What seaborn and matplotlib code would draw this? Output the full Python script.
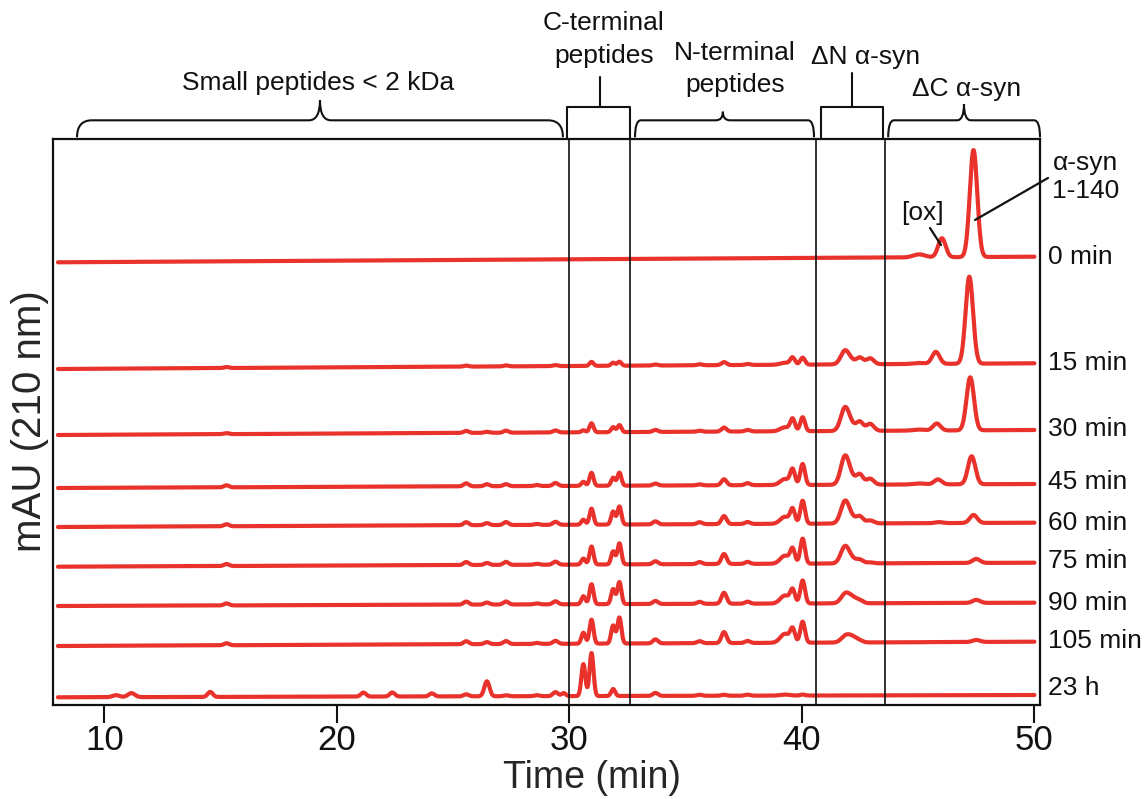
import numpy as np
import pandas as pd
import matplotlib
matplotlib.use("Agg")
import matplotlib.pyplot as plt
import seaborn as sns
from matplotlib.path import Path
from matplotlib.patches import PathPatch

sns.set_style("ticks")
plt.rcParams['font.family'] = ['Liberation Sans', 'DejaVu Sans']

RED = '#e8322b'

# traces, bottom of each baseline (mAU-ish units) and its rise across the run
trace_labels = ['0 min', '15 min', '30 min', '45 min', '60 min', '75 min', '90 min', '105 min', '23 h']
baseline_start = [442.7, 336, 270, 217, 178, 138.3, 99, 59, 7.7]
baseline_rise = [5.6, 5.7, 5.0, 4.0, 4.3, 4.0, 3.3, 4.3, 2.3]
label_nudge = [0, 0, 1, 2, 0, 1.5, 0, 1, 7]

# peptide peaks (retention time, width) shared by all traces
peak_time = [10.5, 11.16, 14.55, 15.25, 21.14, 22.38, 24.08, 25.56, 26.45, 27.27,
             28.6, 29.4, 29.75, 30.6, 30.95, 31.88, 32.15, 33.7, 35.6, 36.65,
             37.66, 39.27, 39.6, 40.03, 41.85, 42.15, 42.5, 42.93, 45.04]
peak_sigma = [0.15, 0.15, 0.11, 0.11, 0.11, 0.11, 0.11, 0.11, 0.11, 0.11,
              0.11, 0.11, 0.09, 0.085, 0.085, 0.085, 0.085, 0.11, 0.11, 0.11,
              0.11, 0.2, 0.1, 0.1, 0.18, 0.22, 0.14, 0.16, 0.25]

h_0min = [0, 0, 0, 0, 0, 0, 0, 0, 0, 0, 0, 0, 0, 0, 0, 0, 0, 0, 0, 0, 0, 0, 0, 0, 0, 0, 0, 0, 3]
h_15min = [0, 0, 0, 1, 0, 0, 0, 1, 0, 1, 0, 1, 0, 0, 4, 3, 4, 1, 1, 3, 1, 2, 7, 7, 13, 3, 6, 6, 1]
h_30min = [0, 0, 0, 1, 0, 0, 0, 2, 1, 2, 0, 2, 0, 2, 9, 5, 7, 2, 1, 4, 1.5, 4, 12, 14, 22, 5, 8, 7, 1]
h_45min = [0, 0, 0, 2, 0, 0, 0, 3, 2, 2, 1, 3, 0, 4, 13, 8, 13, 2, 1, 6, 2, 6, 15, 21, 27, 6, 9, 6, 1]
h_60min = [0, 0, 0, 2, 0, 0, 0, 3, 2, 3, 1, 3, 0, 5, 16, 13, 18, 3, 2, 8, 2, 7, 14, 23, 21, 5, 6, 3, 0]
h_75min = [0, 0, 0, 2, 0, 0, 0, 3, 2, 3, 1, 3, 0, 6, 18, 13, 21, 3, 2, 10, 2, 8, 14, 25, 16, 4, 3, 1, 0]
h_90min = [0, 0, 0, 2, 0, 0, 0, 3, 2, 3, 1, 3, 0, 8, 20, 15, 22, 3, 2, 11, 2, 8, 13, 23, 8, 6, 2, 0, 0]
h_105min = [0, 0, 0, 2, 0, 0, 0, 3, 2, 3, 1, 3, 0, 11, 24, 18, 26, 4, 2, 11, 2, 9, 13, 21, 5, 6, 1, 0, 0]
h_23h = [2, 4, 5, 0, 4, 4, 3, 2, 15, 1, 1, 4, 3, 32, 43, 7, 0, 3, 1, 1, 1, 1, 0, 1, 0, 0, 0, 0, 0]
heights = [h_0min, h_15min, h_30min, h_45min, h_60min, h_75min, h_90min, h_105min, h_23h]

# intact alpha-syn and its oxidised form
main_time = [47.38, 47.2, 47.24, 47.3, 47.38, 47.5, 47.5, 47.5, 47.5]
main_height = [107, 87, 53, 28, 8, 4, 3, 2, 0]
ox_time = [46.02, 45.76, 45.8, 45.85, 45.9, 45.9, 45.9, 45.9, 45.9]
ox_height = [19, 12, 7, 5, 1, 0, 0, 0, 0]

# region dividers (min)
divider_time = [29.99, 32.61, 40.6, 43.57]

time = np.linspace(8, 50, 4201)


def gauss(t, t0, h, s):
    return h * np.exp(-0.5 * ((t - t0) / s) ** 2)


frames = []
for i, name in enumerate(trace_labels):
    y = baseline_start[i] + baseline_rise[i] * (time - 8) / 42
    for t0, s, h in zip(peak_time, peak_sigma, heights[i]):
        y = y + gauss(time, t0, h, s)
    y = y + gauss(time, main_time[i], main_height[i], 0.16)
    y = y + gauss(time, ox_time[i], ox_height[i], 0.16)
    frames.append(pd.DataFrame({'time': time, 'signal': y, 'trace': name}))
df = pd.concat(frames, ignore_index=True)

W, H = 1147, 799
AX_L, AX_T, AX_R, AX_B = 53.3, 139.3, 1040, 705
XMIN, XMAX = 7.8, 50.24

fig = plt.figure(figsize=(W / 100, H / 100), dpi=100)
ax = fig.add_axes([AX_L / W, 1 - AX_B / H, (AX_R - AX_L) / W, (AX_B - AX_T) / H])

sns.lineplot(data=df, x='time', y='signal', units='trace', estimator=None,
             color=RED, lw=3.0, ax=ax)

for xv in divider_time:
    ax.axvline(xv, color='#111111', lw=1.2, zorder=3)

ax.set_xlim(XMIN, XMAX)
ax.set_ylim(0, AX_B - AX_T)
ax.set_xticks([10, 20, 30, 40, 50])
ax.set_yticks([])
ax.tick_params(axis='x', direction='out', length=13, width=1.5, labelsize=25, pad=0.5, colors='#111111')
for sp in ax.spines.values():
    sp.set_color('#111111')
    sp.set_linewidth(1.6)
ax.set_xlabel('Time (min)', fontsize=27)
ax.xaxis.set_label_coords(0.546, -0.097)
ax.set_ylabel('mAU (210 nm)', fontsize=29)
ax.yaxis.set_label_coords(-0.004, 0.502)

for i, name in enumerate(trace_labels):
    yl = baseline_start[i] + baseline_rise[i] + label_nudge[i]
    ax.text(50.58, yl, name, fontsize=19, ha='left', va='center', color='#111111')

# overlay in image pixels for brackets and call-outs
ov = fig.add_axes([0, 0, 1, 1])
ov.set_xlim(0, W)
ov.set_ylim(H, 0)
ov.axis('off')
ov.patch.set_alpha(0)


def px(t):
    return AX_L + (t - XMIN) / (XMAX - XMIN) * (AX_R - AX_L)


def curly(t0, t1, tm, y_tip, r, c):
    x0, x1, xm = px(t0), px(t1), px(tm)
    ye, yh = AX_T - 2, AX_T - 19
    verts = [(x0, ye), (x0, yh), (x0 + r, yh), (xm - c, yh), (xm, yh), (xm, y_tip),
             (xm, yh), (xm + c, yh), (x1 - r, yh), (x1, yh), (x1, ye)]
    codes = [Path.MOVETO, Path.CURVE3, Path.CURVE3, Path.LINETO, Path.CURVE3, Path.CURVE3,
             Path.CURVE3, Path.CURVE3, Path.LINETO, Path.CURVE3, Path.CURVE3]
    ov.add_patch(PathPatch(Path(verts, codes), fill=False, lw=1.5, color='#111111'))


def square(t0, t1, tm, y_tip):
    x0, x1, xm = px(t0), px(t1), px(tm)
    ye, yt = AX_T - 1, AX_T - 32
    ov.plot([x0, x0, x1, x1], [ye, yt, yt, ye], color='#111111', lw=1.5)
    ov.plot([xm, xm], [yt, y_tip], color='#111111', lw=1.5)


curly(8.82, 29.72, 19.27, 100, 15, 11)
square(29.9, 32.6, 31.31, 76.7)
curly(32.82, 40.52, 36.6, 111.7, 6, 7)
square(40.82, 43.5, 42.16, 73.3)
curly(43.71, 50.24, 46.97, 104, 6, 7)

txt = dict(fontsize=19, ha='center', va='baseline', color='#111111')
ov.text(318, 90, 'Small peptides < 2 kDa', **txt)
ov.text(604, 30, 'C-terminal', **txt)
ov.text(604, 63, 'peptides', **txt)
ov.text(735, 60, 'N-terminal', **txt)
ov.text(735, 92, 'peptides', **txt)
ov.text(866, 64, '\u0394N \u03b1-syn', **txt)
ov.text(967, 96, '\u0394C \u03b1-syn', **txt)

ov.text(1085, 163, '\u03b1-syn', fontsize=19, ha='center', va='center', color='#111111')
ov.text(1086, 191, '1-140', fontsize=19, ha='center', va='center', color='#111111')
ov.plot([1048, 975], [178, 220], color='#111111', lw=1.6)
ov.text(922, 213, '[ox]', fontsize=19, ha='center', va='center', color='#111111')
ov.plot([930, 941], [228, 245], color='#111111', lw=1.6)

fig.savefig('out.png', dpi=100)
